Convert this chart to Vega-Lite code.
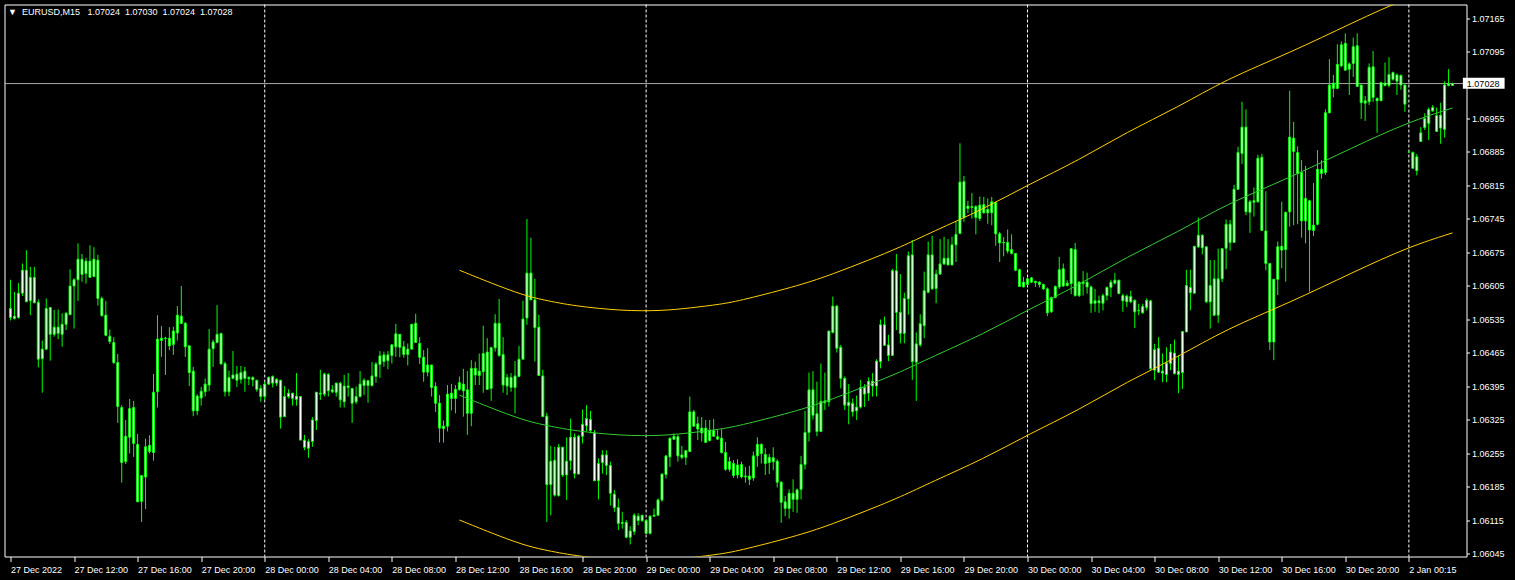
{
"$schema":"https://vega.github.io/schema/vega-lite/v6.json",
"width":1462,"height":552,
"autosize":{"type":"none"},
"padding":{"left":4.5,"top":4.5,"right":48.5,"bottom":23.5},
"background":"#000000",
"title":{"text":"▼\u00a0\u00a0EURUSD,M15\u00a0\u00a0\u00a01.07024\u00a0\u00a01.07030\u00a0\u00a01.07024\u00a0\u00a01.07028","anchor":"start","frame":"group","offset":-12.5,"dx":3.5,"color":"#ffffff","font":"Liberation Sans","fontSize":9,"fontWeight":"normal"},
"config":{"view":{"stroke":"#ffffff","strokeWidth":1},"axis":{"grid":false,"domain":false,"labelColor":"#ffffff","tickColor":"#ffffff","labelFont":"Liberation Sans","labelFontSize":9}},
"resolve":{"axis":{"x":"independent","y":"independent"}},
"datasets":{
"sep":[{"i":64},{"i":160},{"i":256},{"i":352}],
"chan":[
{"i":113,"mid":1.06377,"up":1.06638,"lo":1.06116},
{"i":121,"mid":1.06350,"up":1.06611,"lo":1.06089},
{"i":129,"mid":1.06325,"up":1.06586,"lo":1.06064},
{"i":134,"mid":1.06315,"up":1.06576,"lo":1.06054},
{"i":142,"mid":1.06302,"up":1.06563,"lo":1.06041},
{"i":154,"mid":1.06292,"up":1.06553,"lo":1.06031},
{"i":164,"mid":1.06292,"up":1.06553,"lo":1.06031},
{"i":171,"mid":1.06298,"up":1.06559,"lo":1.06037},
{"i":179,"mid":1.06306,"up":1.06567,"lo":1.06045},
{"i":184,"mid":1.06314,"up":1.06575,"lo":1.06053},
{"i":199,"mid":1.06346,"up":1.06607,"lo":1.06085},
{"i":207,"mid":1.06369,"up":1.06630,"lo":1.06108},
{"i":216,"mid":1.06398,"up":1.06659,"lo":1.06137},
{"i":224,"mid":1.06425,"up":1.06686,"lo":1.06164},
{"i":232,"mid":1.06457,"up":1.06718,"lo":1.06196},
{"i":245,"mid":1.06505,"up":1.06766,"lo":1.06244},
{"i":256,"mid":1.06555,"up":1.06816,"lo":1.06294},
{"i":269,"mid":1.06607,"up":1.06868,"lo":1.06346},
{"i":281,"mid":1.06666,"up":1.06927,"lo":1.06405},
{"i":294,"mid":1.06718,"up":1.06979,"lo":1.06457},
{"i":306,"mid":1.06776,"up":1.07037,"lo":1.06515},
{"i":322,"mid":1.06831,"up":1.07092,"lo":1.06570},
{"i":338,"mid":1.06895,"up":1.07156,"lo":1.06634},
{"i":352,"mid":1.06948,"up":1.07209,"lo":1.06687},
{"i":363,"mid":1.06977,"up":1.07238,"lo":1.06716}],
"bars":[
{"i":0,"o":1.06558,"h":1.06618,"l":1.06533,"c":1.06539},
{"i":1,"o":1.06537,"h":1.06593,"l":1.06535,"c":1.06542},
{"i":2,"o":1.06539,"h":1.06611,"l":1.06537,"c":1.06590},
{"i":3,"o":1.06590,"h":1.06652,"l":1.06584,"c":1.06638},
{"i":4,"o":1.06638,"h":1.06680,"l":1.06572,"c":1.06572},
{"i":5,"o":1.06574,"h":1.06645,"l":1.06544,"c":1.06623},
{"i":6,"o":1.06623,"h":1.06645,"l":1.06569,"c":1.06570},
{"i":7,"o":1.06571,"h":1.06577,"l":1.06435,"c":1.06452},
{"i":8,"o":1.06453,"h":1.06491,"l":1.06382,"c":1.06473},
{"i":9,"o":1.06473,"h":1.06579,"l":1.06471,"c":1.06558},
{"i":10,"o":1.06560,"h":1.06560,"l":1.06449,"c":1.06504},
{"i":11,"o":1.06504,"h":1.06555,"l":1.06499,"c":1.06519},
{"i":12,"o":1.06519,"h":1.06556,"l":1.06494,"c":1.06506},
{"i":13,"o":1.06504,"h":1.06548,"l":1.06478,"c":1.06525},
{"i":14,"o":1.06525,"h":1.06551,"l":1.06513,"c":1.06548},
{"i":15,"o":1.06545,"h":1.06640,"l":1.06545,"c":1.06605},
{"i":16,"o":1.06605,"h":1.06621,"l":1.06516,"c":1.06618},
{"i":17,"o":1.06618,"h":1.06694,"l":1.06574,"c":1.06661},
{"i":18,"o":1.06661,"h":1.06672,"l":1.06614,"c":1.06629},
{"i":19,"o":1.06631,"h":1.06664,"l":1.06610,"c":1.06657},
{"i":20,"o":1.06657,"h":1.06690,"l":1.06623,"c":1.06623},
{"i":21,"o":1.06625,"h":1.06686,"l":1.06623,"c":1.06661},
{"i":22,"o":1.06659,"h":1.06670,"l":1.06564,"c":1.06579},
{"i":23,"o":1.06579,"h":1.06583,"l":1.06541,"c":1.06543},
{"i":24,"o":1.06544,"h":1.06574,"l":1.06500,"c":1.06502},
{"i":25,"o":1.06500,"h":1.06514,"l":1.06484,"c":1.06489},
{"i":26,"o":1.06487,"h":1.06498,"l":1.06442,"c":1.06445},
{"i":27,"o":1.06445,"h":1.06463,"l":1.06319,"c":1.06353},
{"i":28,"o":1.06351,"h":1.06356,"l":1.06194,"c":1.06236},
{"i":29,"o":1.06238,"h":1.06325,"l":1.06233,"c":1.06291},
{"i":30,"o":1.06289,"h":1.06369,"l":1.06255,"c":1.06349},
{"i":31,"o":1.06351,"h":1.06365,"l":1.06248,"c":1.06276},
{"i":32,"o":1.06274,"h":1.06296,"l":1.06154,"c":1.06154},
{"i":33,"o":1.06155,"h":1.06209,"l":1.06112,"c":1.06209},
{"i":34,"o":1.06206,"h":1.06286,"l":1.06139,"c":1.06269},
{"i":35,"o":1.06272,"h":1.06293,"l":1.06255,"c":1.06259},
{"i":36,"o":1.06257,"h":1.06421,"l":1.06240,"c":1.06383},
{"i":37,"o":1.06384,"h":1.06544,"l":1.06351,"c":1.06494},
{"i":38,"o":1.06496,"h":1.06521,"l":1.06457,"c":1.06491},
{"i":39,"o":1.06495,"h":1.06499,"l":1.06419,"c":1.06496},
{"i":40,"o":1.06496,"h":1.06519,"l":1.06471,"c":1.06480},
{"i":41,"o":1.06483,"h":1.06520,"l":1.06461,"c":1.06511},
{"i":42,"o":1.06507,"h":1.06563,"l":1.06491,"c":1.06544},
{"i":43,"o":1.06542,"h":1.06605,"l":1.06525,"c":1.06527},
{"i":44,"o":1.06527,"h":1.06530,"l":1.06457,"c":1.06478},
{"i":45,"o":1.06480,"h":1.06480,"l":1.06396,"c":1.06424},
{"i":46,"o":1.06427,"h":1.06436,"l":1.06333,"c":1.06344},
{"i":47,"o":1.06344,"h":1.06379,"l":1.06335,"c":1.06375},
{"i":48,"o":1.06371,"h":1.06394,"l":1.06355,"c":1.06385},
{"i":49,"o":1.06384,"h":1.06412,"l":1.06374,"c":1.06400},
{"i":50,"o":1.06398,"h":1.06515,"l":1.06385,"c":1.06473},
{"i":51,"o":1.06474,"h":1.06493,"l":1.06436,"c":1.06488},
{"i":52,"o":1.06487,"h":1.06565,"l":1.06485,"c":1.06504},
{"i":53,"o":1.06506,"h":1.06506,"l":1.06441,"c":1.06442},
{"i":54,"o":1.06443,"h":1.06447,"l":1.06374,"c":1.06384},
{"i":55,"o":1.06384,"h":1.06428,"l":1.06375,"c":1.06414},
{"i":56,"o":1.06412,"h":1.06469,"l":1.06410,"c":1.06419},
{"i":57,"o":1.06421,"h":1.06438,"l":1.06394,"c":1.06408},
{"i":58,"o":1.06410,"h":1.06438,"l":1.06401,"c":1.06424},
{"i":59,"o":1.06427,"h":1.06436,"l":1.06384,"c":1.06412},
{"i":60,"o":1.06411,"h":1.06416,"l":1.06398,"c":1.06414},
{"i":61,"o":1.06414,"h":1.06416,"l":1.06395,"c":1.06409},
{"i":62,"o":1.06408,"h":1.06409,"l":1.06384,"c":1.06389},
{"i":63,"o":1.06391,"h":1.06398,"l":1.06363,"c":1.06374},
{"i":64,"o":1.06374,"h":1.06405,"l":1.06367,"c":1.06400},
{"i":65,"o":1.06400,"h":1.06416,"l":1.06398,"c":1.06414},
{"i":66,"o":1.06416,"h":1.06418,"l":1.06393,"c":1.06402},
{"i":67,"o":1.06402,"h":1.06412,"l":1.06396,"c":1.06410},
{"i":68,"o":1.06408,"h":1.06409,"l":1.06307,"c":1.06331},
{"i":69,"o":1.06332,"h":1.06396,"l":1.06332,"c":1.06374},
{"i":70,"o":1.06374,"h":1.06389,"l":1.06370,"c":1.06381},
{"i":71,"o":1.06381,"h":1.06382,"l":1.06355,"c":1.06370},
{"i":72,"o":1.06368,"h":1.06423,"l":1.06355,"c":1.06375},
{"i":73,"o":1.06374,"h":1.06374,"l":1.06283,"c":1.06283},
{"i":74,"o":1.06283,"h":1.06294,"l":1.06262,"c":1.06268},
{"i":75,"o":1.06266,"h":1.06285,"l":1.06246,"c":1.06280},
{"i":76,"o":1.06280,"h":1.06331,"l":1.06269,"c":1.06325},
{"i":77,"o":1.06324,"h":1.06383,"l":1.06304,"c":1.06383},
{"i":78,"o":1.06381,"h":1.06430,"l":1.06367,"c":1.06379},
{"i":79,"o":1.06379,"h":1.06424,"l":1.06374,"c":1.06421},
{"i":80,"o":1.06420,"h":1.06423,"l":1.06374,"c":1.06386},
{"i":81,"o":1.06384,"h":1.06398,"l":1.06381,"c":1.06388},
{"i":82,"o":1.06383,"h":1.06403,"l":1.06374,"c":1.06402},
{"i":83,"o":1.06402,"h":1.06405,"l":1.06351,"c":1.06367},
{"i":84,"o":1.06363,"h":1.06419,"l":1.06351,"c":1.06396},
{"i":85,"o":1.06396,"h":1.06423,"l":1.06374,"c":1.06393},
{"i":86,"o":1.06391,"h":1.06391,"l":1.06319,"c":1.06360},
{"i":87,"o":1.06363,"h":1.06395,"l":1.06358,"c":1.06374},
{"i":88,"o":1.06374,"h":1.06427,"l":1.06372,"c":1.06400},
{"i":89,"o":1.06397,"h":1.06412,"l":1.06377,"c":1.06408},
{"i":90,"o":1.06407,"h":1.06409,"l":1.06361,"c":1.06397},
{"i":91,"o":1.06397,"h":1.06446,"l":1.06395,"c":1.06417},
{"i":92,"o":1.06416,"h":1.06446,"l":1.06403,"c":1.06442},
{"i":93,"o":1.06441,"h":1.06469,"l":1.06413,"c":1.06459},
{"i":94,"o":1.06461,"h":1.06468,"l":1.06436,"c":1.06447},
{"i":95,"o":1.06449,"h":1.06469,"l":1.06431,"c":1.06461},
{"i":96,"o":1.06460,"h":1.06484,"l":1.06443,"c":1.06482},
{"i":97,"o":1.06478,"h":1.06526,"l":1.06457,"c":1.06505},
{"i":98,"o":1.06504,"h":1.06504,"l":1.06456,"c":1.06477},
{"i":99,"o":1.06478,"h":1.06490,"l":1.06455,"c":1.06462},
{"i":100,"o":1.06462,"h":1.06485,"l":1.06439,"c":1.06473},
{"i":101,"o":1.06473,"h":1.06525,"l":1.06473,"c":1.06525},
{"i":102,"o":1.06527,"h":1.06547,"l":1.06487,"c":1.06487},
{"i":103,"o":1.06485,"h":1.06498,"l":1.06442,"c":1.06456},
{"i":104,"o":1.06456,"h":1.06471,"l":1.06405,"c":1.06425},
{"i":105,"o":1.06425,"h":1.06475,"l":1.06416,"c":1.06440},
{"i":106,"o":1.06440,"h":1.06440,"l":1.06374,"c":1.06393},
{"i":107,"o":1.06395,"h":1.06404,"l":1.06342,"c":1.06360},
{"i":108,"o":1.06360,"h":1.06377,"l":1.06278,"c":1.06308},
{"i":109,"o":1.06307,"h":1.06324,"l":1.06278,"c":1.06312},
{"i":110,"o":1.06312,"h":1.06398,"l":1.06301,"c":1.06379},
{"i":111,"o":1.06381,"h":1.06400,"l":1.06345,"c":1.06370},
{"i":112,"o":1.06370,"h":1.06398,"l":1.06339,"c":1.06389},
{"i":113,"o":1.06389,"h":1.06416,"l":1.06386,"c":1.06403},
{"i":114,"o":1.06400,"h":1.06432,"l":1.06332,"c":1.06386},
{"i":115,"o":1.06388,"h":1.06427,"l":1.06294,"c":1.06339},
{"i":116,"o":1.06339,"h":1.06450,"l":1.06312,"c":1.06433},
{"i":117,"o":1.06433,"h":1.06447,"l":1.06398,"c":1.06419},
{"i":118,"o":1.06418,"h":1.06464,"l":1.06398,"c":1.06427},
{"i":119,"o":1.06426,"h":1.06522,"l":1.06382,"c":1.06464},
{"i":120,"o":1.06467,"h":1.06496,"l":1.06389,"c":1.06389},
{"i":121,"o":1.06391,"h":1.06478,"l":1.06365,"c":1.06476},
{"i":122,"o":1.06476,"h":1.06546,"l":1.06468,"c":1.06527},
{"i":123,"o":1.06527,"h":1.06578,"l":1.06457,"c":1.06460},
{"i":124,"o":1.06462,"h":1.06498,"l":1.06382,"c":1.06398},
{"i":125,"o":1.06396,"h":1.06421,"l":1.06377,"c":1.06414},
{"i":126,"o":1.06414,"h":1.06423,"l":1.06384,"c":1.06393},
{"i":127,"o":1.06393,"h":1.06448,"l":1.06339,"c":1.06417},
{"i":128,"o":1.06416,"h":1.06480,"l":1.06416,"c":1.06452},
{"i":129,"o":1.06452,"h":1.06574,"l":1.06452,"c":1.06536},
{"i":130,"o":1.06538,"h":1.06745,"l":1.06524,"c":1.06632},
{"i":131,"o":1.06632,"h":1.06706,"l":1.06576,"c":1.06576},
{"i":132,"o":1.06576,"h":1.06620,"l":1.06447,"c":1.06518},
{"i":133,"o":1.06519,"h":1.06545,"l":1.06418,"c":1.06418},
{"i":134,"o":1.06417,"h":1.06430,"l":1.06332,"c":1.06332},
{"i":135,"o":1.06333,"h":1.06340,"l":1.06112,"c":1.06190},
{"i":136,"o":1.06190,"h":1.06271,"l":1.06126,"c":1.06239},
{"i":137,"o":1.06241,"h":1.06269,"l":1.06165,"c":1.06168},
{"i":138,"o":1.06167,"h":1.06275,"l":1.06165,"c":1.06268},
{"i":139,"o":1.06268,"h":1.06269,"l":1.06206,"c":1.06210},
{"i":140,"o":1.06210,"h":1.06289,"l":1.06158,"c":1.06239},
{"i":141,"o":1.06240,"h":1.06328,"l":1.06220,"c":1.06289},
{"i":142,"o":1.06289,"h":1.06297,"l":1.06203,"c":1.06213},
{"i":143,"o":1.06212,"h":1.06294,"l":1.06212,"c":1.06291},
{"i":144,"o":1.06291,"h":1.06347,"l":1.06276,"c":1.06316},
{"i":145,"o":1.06313,"h":1.06356,"l":1.06301,"c":1.06328},
{"i":146,"o":1.06326,"h":1.06344,"l":1.06297,"c":1.06303},
{"i":147,"o":1.06298,"h":1.06304,"l":1.06198,"c":1.06198},
{"i":148,"o":1.06198,"h":1.06245,"l":1.06159,"c":1.06234},
{"i":149,"o":1.06236,"h":1.06262,"l":1.06213,"c":1.06252},
{"i":150,"o":1.06252,"h":1.06262,"l":1.06210,"c":1.06230},
{"i":151,"o":1.06230,"h":1.06238,"l":1.06146,"c":1.06172},
{"i":152,"o":1.06170,"h":1.06179,"l":1.06133,"c":1.06142},
{"i":153,"o":1.06142,"h":1.06161,"l":1.06095,"c":1.06109},
{"i":154,"o":1.06109,"h":1.06133,"l":1.06098,"c":1.06111},
{"i":155,"o":1.06111,"h":1.06116,"l":1.06078,"c":1.06080},
{"i":156,"o":1.06080,"h":1.06103,"l":1.06065,"c":1.06093},
{"i":157,"o":1.06092,"h":1.06130,"l":1.06085,"c":1.06126},
{"i":158,"o":1.06124,"h":1.06130,"l":1.06105,"c":1.06115},
{"i":159,"o":1.06115,"h":1.06126,"l":1.06112,"c":1.06126},
{"i":160,"o":1.06115,"h":1.06117,"l":1.06087,"c":1.06088},
{"i":161,"o":1.06088,"h":1.06126,"l":1.06086,"c":1.06124},
{"i":162,"o":1.06124,"h":1.06140,"l":1.06123,"c":1.06126},
{"i":163,"o":1.06126,"h":1.06161,"l":1.06124,"c":1.06158},
{"i":164,"o":1.06158,"h":1.06213,"l":1.06154,"c":1.06212},
{"i":165,"o":1.06211,"h":1.06251,"l":1.06203,"c":1.06250},
{"i":166,"o":1.06248,"h":1.06288,"l":1.06227,"c":1.06287},
{"i":167,"o":1.06285,"h":1.06297,"l":1.06283,"c":1.06291},
{"i":168,"o":1.06290,"h":1.06294,"l":1.06238,"c":1.06250},
{"i":169,"o":1.06252,"h":1.06271,"l":1.06243,"c":1.06247},
{"i":170,"o":1.06247,"h":1.06261,"l":1.06231,"c":1.06261},
{"i":171,"o":1.06259,"h":1.06374,"l":1.06259,"c":1.06342},
{"i":172,"o":1.06342,"h":1.06346,"l":1.06311,"c":1.06312},
{"i":173,"o":1.06317,"h":1.06332,"l":1.06283,"c":1.06306},
{"i":174,"o":1.06308,"h":1.06331,"l":1.06280,"c":1.06298},
{"i":175,"o":1.06308,"h":1.06325,"l":1.06278,"c":1.06278},
{"i":176,"o":1.06282,"h":1.06325,"l":1.06280,"c":1.06304},
{"i":177,"o":1.06303,"h":1.06327,"l":1.06290,"c":1.06291},
{"i":178,"o":1.06290,"h":1.06304,"l":1.06283,"c":1.06285},
{"i":179,"o":1.06287,"h":1.06306,"l":1.06255,"c":1.06257},
{"i":180,"o":1.06257,"h":1.06279,"l":1.06219,"c":1.06222},
{"i":181,"o":1.06222,"h":1.06248,"l":1.06217,"c":1.06238},
{"i":182,"o":1.06234,"h":1.06241,"l":1.06204,"c":1.06209},
{"i":183,"o":1.06210,"h":1.06243,"l":1.06203,"c":1.06231},
{"i":184,"o":1.06232,"h":1.06238,"l":1.06203,"c":1.06206},
{"i":185,"o":1.06206,"h":1.06227,"l":1.06194,"c":1.06208},
{"i":186,"o":1.06208,"h":1.06229,"l":1.06189,"c":1.06201},
{"i":187,"o":1.06204,"h":1.06259,"l":1.06198,"c":1.06250},
{"i":188,"o":1.06250,"h":1.06289,"l":1.06227,"c":1.06274},
{"i":189,"o":1.06274,"h":1.06276,"l":1.06234,"c":1.06255},
{"i":190,"o":1.06253,"h":1.06266,"l":1.06210,"c":1.06234},
{"i":191,"o":1.06236,"h":1.06254,"l":1.06212,"c":1.06247},
{"i":192,"o":1.06246,"h":1.06268,"l":1.06220,"c":1.06238},
{"i":193,"o":1.06239,"h":1.06243,"l":1.06184,"c":1.06195},
{"i":194,"o":1.06195,"h":1.06197,"l":1.06110,"c":1.06153},
{"i":195,"o":1.06154,"h":1.06166,"l":1.06124,"c":1.06140},
{"i":196,"o":1.06140,"h":1.06180,"l":1.06119,"c":1.06172},
{"i":197,"o":1.06172,"h":1.06201,"l":1.06133,"c":1.06159},
{"i":198,"o":1.06159,"h":1.06182,"l":1.06131,"c":1.06179},
{"i":199,"o":1.06180,"h":1.06250,"l":1.06159,"c":1.06232},
{"i":200,"o":1.06232,"h":1.06344,"l":1.06222,"c":1.06299},
{"i":201,"o":1.06299,"h":1.06424,"l":1.06280,"c":1.06388},
{"i":202,"o":1.06388,"h":1.06427,"l":1.06326,"c":1.06335},
{"i":203,"o":1.06338,"h":1.06405,"l":1.06291,"c":1.06301},
{"i":204,"o":1.06301,"h":1.06443,"l":1.06301,"c":1.06364},
{"i":205,"o":1.06365,"h":1.06424,"l":1.06346,"c":1.06361},
{"i":206,"o":1.06363,"h":1.06511,"l":1.06353,"c":1.06511},
{"i":207,"o":1.06508,"h":1.06583,"l":1.06506,"c":1.06563},
{"i":208,"o":1.06563,"h":1.06565,"l":1.06466,"c":1.06475},
{"i":209,"o":1.06477,"h":1.06482,"l":1.06391,"c":1.06412},
{"i":210,"o":1.06412,"h":1.06416,"l":1.06346,"c":1.06356},
{"i":211,"o":1.06355,"h":1.06400,"l":1.06316,"c":1.06362},
{"i":212,"o":1.06360,"h":1.06370,"l":1.06332,"c":1.06342},
{"i":213,"o":1.06344,"h":1.06376,"l":1.06325,"c":1.06352},
{"i":214,"o":1.06352,"h":1.06409,"l":1.06349,"c":1.06393},
{"i":215,"o":1.06393,"h":1.06400,"l":1.06352,"c":1.06379},
{"i":216,"o":1.06381,"h":1.06414,"l":1.06365,"c":1.06406},
{"i":217,"o":1.06406,"h":1.06423,"l":1.06374,"c":1.06396},
{"i":218,"o":1.06396,"h":1.06452,"l":1.06374,"c":1.06448},
{"i":219,"o":1.06447,"h":1.06535,"l":1.06433,"c":1.06524},
{"i":220,"o":1.06524,"h":1.06541,"l":1.06480,"c":1.06481},
{"i":221,"o":1.06482,"h":1.06503,"l":1.06448,"c":1.06460},
{"i":222,"o":1.06460,"h":1.06641,"l":1.06459,"c":1.06637},
{"i":223,"o":1.06637,"h":1.06672,"l":1.06513,"c":1.06550},
{"i":224,"o":1.06550,"h":1.06630,"l":1.06485,"c":1.06506},
{"i":225,"o":1.06506,"h":1.06591,"l":1.06485,"c":1.06579},
{"i":226,"o":1.06578,"h":1.06677,"l":1.06545,"c":1.06668},
{"i":227,"o":1.06670,"h":1.06701,"l":1.06409,"c":1.06447},
{"i":228,"o":1.06446,"h":1.06508,"l":1.06365,"c":1.06484},
{"i":229,"o":1.06482,"h":1.06546,"l":1.06478,"c":1.06526},
{"i":230,"o":1.06522,"h":1.06635,"l":1.06496,"c":1.06595},
{"i":231,"o":1.06592,"h":1.06698,"l":1.06590,"c":1.06670},
{"i":232,"o":1.06670,"h":1.06710,"l":1.06597,"c":1.06599},
{"i":233,"o":1.06600,"h":1.06639,"l":1.06569,"c":1.06630},
{"i":234,"o":1.06630,"h":1.06703,"l":1.06628,"c":1.06651},
{"i":235,"o":1.06651,"h":1.06708,"l":1.06649,"c":1.06663},
{"i":236,"o":1.06663,"h":1.06703,"l":1.06648,"c":1.06649},
{"i":237,"o":1.06649,"h":1.06708,"l":1.06648,"c":1.06691},
{"i":238,"o":1.06691,"h":1.06740,"l":1.06655,"c":1.06713},
{"i":239,"o":1.06715,"h":1.06903,"l":1.06713,"c":1.06822},
{"i":240,"o":1.06823,"h":1.06835,"l":1.06739,"c":1.06748},
{"i":241,"o":1.06767,"h":1.06783,"l":1.06757,"c":1.06772},
{"i":242,"o":1.06771,"h":1.06799,"l":1.06746,"c":1.06769},
{"i":243,"o":1.06771,"h":1.06774,"l":1.06713,"c":1.06748},
{"i":244,"o":1.06746,"h":1.06792,"l":1.06741,"c":1.06774},
{"i":245,"o":1.06775,"h":1.06791,"l":1.06756,"c":1.06758},
{"i":246,"o":1.06758,"h":1.06788,"l":1.06735,"c":1.06765},
{"i":247,"o":1.06758,"h":1.06791,"l":1.06732,"c":1.06781},
{"i":248,"o":1.06779,"h":1.06781,"l":1.06689,"c":1.06714},
{"i":249,"o":1.06714,"h":1.06718,"l":1.06655,"c":1.06695},
{"i":250,"o":1.06695,"h":1.06707,"l":1.06667,"c":1.06696},
{"i":251,"o":1.06696,"h":1.06723,"l":1.06673,"c":1.06678},
{"i":252,"o":1.06681,"h":1.06713,"l":1.06671,"c":1.06673},
{"i":253,"o":1.06673,"h":1.06674,"l":1.06636,"c":1.06638},
{"i":254,"o":1.06639,"h":1.06641,"l":1.06603,"c":1.06604},
{"i":255,"o":1.06603,"h":1.06624,"l":1.06602,"c":1.06613},
{"i":256,"o":1.06608,"h":1.06624,"l":1.06606,"c":1.06620},
{"i":257,"o":1.06622,"h":1.06624,"l":1.06611,"c":1.06613},
{"i":258,"o":1.06612,"h":1.06615,"l":1.06603,"c":1.06615},
{"i":259,"o":1.06613,"h":1.06615,"l":1.06602,"c":1.06608},
{"i":260,"o":1.06608,"h":1.06610,"l":1.06597,"c":1.06599},
{"i":261,"o":1.06599,"h":1.06602,"l":1.06542,"c":1.06549},
{"i":262,"o":1.06551,"h":1.06583,"l":1.06549,"c":1.06581},
{"i":263,"o":1.06581,"h":1.06606,"l":1.06579,"c":1.06604},
{"i":264,"o":1.06603,"h":1.06666,"l":1.06599,"c":1.06639},
{"i":265,"o":1.06641,"h":1.06652,"l":1.06603,"c":1.06605},
{"i":266,"o":1.06606,"h":1.06617,"l":1.06604,"c":1.06611},
{"i":267,"o":1.06610,"h":1.06683,"l":1.06588,"c":1.06683},
{"i":268,"o":1.06681,"h":1.06695,"l":1.06583,"c":1.06585},
{"i":269,"o":1.06585,"h":1.06615,"l":1.06582,"c":1.06613},
{"i":270,"o":1.06613,"h":1.06636,"l":1.06585,"c":1.06610},
{"i":271,"o":1.06613,"h":1.06633,"l":1.06589,"c":1.06603},
{"i":272,"o":1.06603,"h":1.06606,"l":1.06549,"c":1.06568},
{"i":273,"o":1.06569,"h":1.06599,"l":1.06551,"c":1.06574},
{"i":274,"o":1.06574,"h":1.06585,"l":1.06549,"c":1.06570},
{"i":275,"o":1.06569,"h":1.06589,"l":1.06554,"c":1.06585},
{"i":276,"o":1.06585,"h":1.06604,"l":1.06575,"c":1.06602},
{"i":277,"o":1.06602,"h":1.06618,"l":1.06582,"c":1.06613},
{"i":278,"o":1.06611,"h":1.06632,"l":1.06608,"c":1.06617},
{"i":279,"o":1.06617,"h":1.06618,"l":1.06588,"c":1.06589},
{"i":280,"o":1.06585,"h":1.06589,"l":1.06551,"c":1.06574},
{"i":281,"o":1.06572,"h":1.06587,"l":1.06561,"c":1.06584},
{"i":282,"o":1.06583,"h":1.06595,"l":1.06569,"c":1.06572},
{"i":283,"o":1.06575,"h":1.06577,"l":1.06517,"c":1.06551},
{"i":284,"o":1.06553,"h":1.06568,"l":1.06544,"c":1.06554},
{"i":285,"o":1.06549,"h":1.06568,"l":1.06547,"c":1.06562},
{"i":286,"o":1.06560,"h":1.06579,"l":1.06554,"c":1.06575},
{"i":287,"o":1.06574,"h":1.06575,"l":1.06429,"c":1.06432},
{"i":288,"o":1.06429,"h":1.06484,"l":1.06408,"c":1.06472},
{"i":289,"o":1.06475,"h":1.06498,"l":1.06423,"c":1.06425},
{"i":290,"o":1.06427,"h":1.06464,"l":1.06404,"c":1.06423},
{"i":291,"o":1.06420,"h":1.06477,"l":1.06404,"c":1.06444},
{"i":292,"o":1.06443,"h":1.06484,"l":1.06429,"c":1.06467},
{"i":293,"o":1.06465,"h":1.06493,"l":1.06420,"c":1.06422},
{"i":294,"o":1.06420,"h":1.06460,"l":1.06381,"c":1.06427},
{"i":295,"o":1.06424,"h":1.06510,"l":1.06390,"c":1.06510},
{"i":296,"o":1.06509,"h":1.06639,"l":1.06509,"c":1.06606},
{"i":297,"o":1.06602,"h":1.06639,"l":1.06554,"c":1.06591},
{"i":298,"o":1.06590,"h":1.06688,"l":1.06589,"c":1.06688},
{"i":299,"o":1.06687,"h":1.06748,"l":1.06684,"c":1.06711},
{"i":300,"o":1.06711,"h":1.06713,"l":1.06671,"c":1.06685},
{"i":301,"o":1.06687,"h":1.06687,"l":1.06569,"c":1.06572},
{"i":302,"o":1.06572,"h":1.06659,"l":1.06516,"c":1.06606},
{"i":303,"o":1.06620,"h":1.06659,"l":1.06542,"c":1.06544},
{"i":304,"o":1.06544,"h":1.06683,"l":1.06528,"c":1.06620},
{"i":305,"o":1.06620,"h":1.06683,"l":1.06613,"c":1.06683},
{"i":306,"o":1.06684,"h":1.06744,"l":1.06640,"c":1.06734},
{"i":307,"o":1.06734,"h":1.06743,"l":1.06679,"c":1.06696},
{"i":308,"o":1.06696,"h":1.06816,"l":1.06695,"c":1.06807},
{"i":309,"o":1.06807,"h":1.06896,"l":1.06806,"c":1.06884},
{"i":310,"o":1.06882,"h":1.06990,"l":1.06860,"c":1.06937},
{"i":311,"o":1.06937,"h":1.06974,"l":1.06753,"c":1.06760},
{"i":312,"o":1.06759,"h":1.06785,"l":1.06716,"c":1.06781},
{"i":313,"o":1.06780,"h":1.06811,"l":1.06750,"c":1.06783},
{"i":314,"o":1.06781,"h":1.06879,"l":1.06779,"c":1.06872},
{"i":315,"o":1.06874,"h":1.06881,"l":1.06721,"c":1.06721},
{"i":316,"o":1.06720,"h":1.06803,"l":1.06638,"c":1.06652},
{"i":317,"o":1.06652,"h":1.06652,"l":1.06471,"c":1.06488},
{"i":318,"o":1.06488,"h":1.06619,"l":1.06450,"c":1.06619},
{"i":319,"o":1.06619,"h":1.06698,"l":1.06586,"c":1.06687},
{"i":320,"o":1.06688,"h":1.06781,"l":1.06642,"c":1.06680},
{"i":321,"o":1.06681,"h":1.06760,"l":1.06614,"c":1.06759},
{"i":322,"o":1.06760,"h":1.07013,"l":1.06729,"c":1.06916},
{"i":323,"o":1.06914,"h":1.06948,"l":1.06732,"c":1.06886},
{"i":324,"o":1.06884,"h":1.06897,"l":1.06734,"c":1.06840},
{"i":325,"o":1.06842,"h":1.06868,"l":1.06706,"c":1.06741},
{"i":326,"o":1.06741,"h":1.06856,"l":1.06694,"c":1.06788},
{"i":327,"o":1.06783,"h":1.06785,"l":1.06593,"c":1.06722},
{"i":328,"o":1.06721,"h":1.06820,"l":1.06709,"c":1.06732},
{"i":329,"o":1.06734,"h":1.06889,"l":1.06732,"c":1.06849},
{"i":330,"o":1.06849,"h":1.06868,"l":1.06829,"c":1.06840},
{"i":331,"o":1.06842,"h":1.06974,"l":1.06837,"c":1.06967},
{"i":332,"o":1.06967,"h":1.07079,"l":1.06966,"c":1.07025},
{"i":333,"o":1.07029,"h":1.07046,"l":1.06999,"c":1.07018},
{"i":334,"o":1.07018,"h":1.07110,"l":1.07016,"c":1.07068},
{"i":335,"o":1.07065,"h":1.07116,"l":1.07062,"c":1.07109},
{"i":336,"o":1.07112,"h":1.07133,"l":1.07055,"c":1.07056},
{"i":337,"o":1.07058,"h":1.07072,"l":1.07004,"c":1.07069},
{"i":338,"o":1.07070,"h":1.07124,"l":1.07042,"c":1.07105},
{"i":339,"o":1.07107,"h":1.07133,"l":1.07022,"c":1.07022},
{"i":340,"o":1.07025,"h":1.07025,"l":1.06954,"c":1.06988},
{"i":341,"o":1.06987,"h":1.07002,"l":1.06950,"c":1.06992},
{"i":342,"o":1.06990,"h":1.07070,"l":1.06983,"c":1.07062},
{"i":343,"o":1.07063,"h":1.07096,"l":1.06990,"c":1.06999},
{"i":344,"o":1.06997,"h":1.06999,"l":1.06925,"c":1.06992},
{"i":345,"o":1.06992,"h":1.07032,"l":1.06992,"c":1.07030},
{"i":346,"o":1.07029,"h":1.07072,"l":1.07022,"c":1.07024},
{"i":347,"o":1.07024,"h":1.07083,"l":1.07020,"c":1.07047},
{"i":348,"o":1.07051,"h":1.07053,"l":1.07034,"c":1.07037},
{"i":349,"o":1.07033,"h":1.07049,"l":1.07004,"c":1.07046},
{"i":350,"o":1.07045,"h":1.07047,"l":1.07015,"c":1.07025},
{"i":351,"o":1.07025,"h":1.07026,"l":1.06969,"c":1.06985},
{"i":352,"o":1.06885,"h":1.06886,"l":1.06884,"c":1.06885},
{"i":353,"o":1.06884,"h":1.06886,"l":1.06851,"c":1.06851},
{"i":354,"o":1.06846,"h":1.06881,"l":1.06836,"c":1.06875},
{"i":355,"o":1.06907,"h":1.06937,"l":1.06907,"c":1.06925},
{"i":356,"o":1.06936,"h":1.06966,"l":1.06931,"c":1.06955},
{"i":357,"o":1.06945,"h":1.06978,"l":1.06910,"c":1.06974},
{"i":358,"o":1.06971,"h":1.06983,"l":1.06969,"c":1.06978},
{"i":359,"o":1.06961,"h":1.06978,"l":1.06928,"c":1.06928},
{"i":360,"o":1.06935,"h":1.06988,"l":1.06902,"c":1.06962},
{"i":361,"o":1.06932,"h":1.07033,"l":1.06915,"c":1.07025},
{"i":362,"o":1.07024,"h":1.07058,"l":1.07022,"c":1.07027},
{"i":363,"o":1.07024,"h":1.07030,"l":1.07024,"c":1.07028}]
},
"layer":[
{"data":{"name":"sep"},"mark":{"type":"rule","color":"#ffffff","strokeWidth":1,"strokeDash":[3,2]},
 "encoding":{"x":{"field":"i","type":"quantitative","scale":{"domain":[-0.25,365.25],"nice":false,"zero":false},"axis":null}}},
{"data":{"values":[{}]},"mark":{"type":"rule","color":"#a8a8a8","strokeWidth":1},
 "encoding":{"y":{"datum":1.07028,"type":"quantitative","scale":{"domain":[1.0603975,1.0719321],"nice":false,"zero":false},"axis":null}}},
{"data":{"name":"bars"},"mark":{"type":"rule","color":"#00ff00","strokeWidth":1},
 "encoding":{
  "x":{"field":"i","type":"quantitative","scale":{"domain":[-0.25,365.25],"nice":false,"zero":false},
       "axis":{"title":null,"orient":"bottom","values":[0,16,32,48,64,80,96,112,128,144,160,176,192,208,224,240,256,272,288,304,320,336,352],
       "labelExpr":"['27 Dec 2022','27 Dec 12:00','27 Dec 16:00','27 Dec 20:00','28 Dec 00:00','28 Dec 04:00','28 Dec 08:00','28 Dec 12:00','28 Dec 16:00','28 Dec 20:00','29 Dec 00:00','29 Dec 04:00','29 Dec 08:00','29 Dec 12:00','29 Dec 16:00','29 Dec 20:00','30 Dec 00:00','30 Dec 04:00','30 Dec 08:00','30 Dec 12:00','30 Dec 16:00','30 Dec 20:00','2 Jan 00:15'][round(datum.value/16)]",
       "labelAlign":"left","labelBaseline":"top","tickSize":5,"labelPadding":4,"labelFlush":false,"labelOverlap":false,"labelBound":false}},
  "y":{"field":"l","type":"quantitative","scale":{"domain":[1.0603975,1.0719321],"nice":false,"zero":false},
       "axis":{"title":null,"orient":"right","values":[1.06045,1.06115,1.06185,1.06255,1.06325,1.06395,1.06465,1.06535,1.06605,1.06675,1.06745,1.06815,1.06885,1.06955,1.07095,1.07165],
       "format":".5f","labelAlign":"left","labelBaseline":"middle","tickSize":3,"labelPadding":2,"labelFlush":false,"labelOverlap":false,"labelBound":false}},
  "y2":{"field":"h"}}},
{"data":{"name":"bars"},"mark":{"type":"bar","size":2,"fill":"#ffffff","stroke":"#00ff00","strokeWidth":1},
 "encoding":{
  "x":{"field":"i","type":"quantitative","scale":{"domain":[-0.25,365.25],"nice":false,"zero":false},"axis":null},
  "y":{"field":"o","type":"quantitative","scale":{"domain":[1.0603975,1.0719321],"nice":false,"zero":false},"axis":null},
  "y2":{"field":"c"}}},
{"data":{"name":"chan"},"mark":{"type":"line","color":"#ffd000","strokeWidth":1,"interpolate":"basis","clip":true},
 "encoding":{"x":{"field":"i","type":"quantitative","axis":null},"y":{"field":"up","type":"quantitative","axis":null}}},
{"data":{"name":"chan"},"mark":{"type":"line","color":"#ffd000","strokeWidth":1,"interpolate":"basis","clip":true},
 "encoding":{"x":{"field":"i","type":"quantitative","axis":null},"y":{"field":"lo","type":"quantitative","axis":null}}},
{"data":{"name":"chan"},"mark":{"type":"line","color":"#32cd32","strokeWidth":1,"interpolate":"basis","clip":true},
 "encoding":{"x":{"field":"i","type":"quantitative","axis":null},"y":{"field":"mid","type":"quantitative","axis":null}}},
{"data":{"values":[{}]},"mark":{"type":"rect","fill":"#ffffff"},
 "encoding":{"x":{"datum":365.6,"type":"quantitative","axis":null},"x2":{"datum":376.1},"y":{"datum":1.07017,"type":"quantitative","axis":null},"y2":{"datum":1.0704}}},
{"data":{"values":[{}]},"mark":{"type":"text","text":"1.07028","align":"left","baseline":"middle","color":"#000000","font":"Liberation Sans","fontSize":9},
 "encoding":{"x":{"datum":366.6,"type":"quantitative","axis":null},"y":{"datum":1.07028,"type":"quantitative","axis":null}}}
]
}
